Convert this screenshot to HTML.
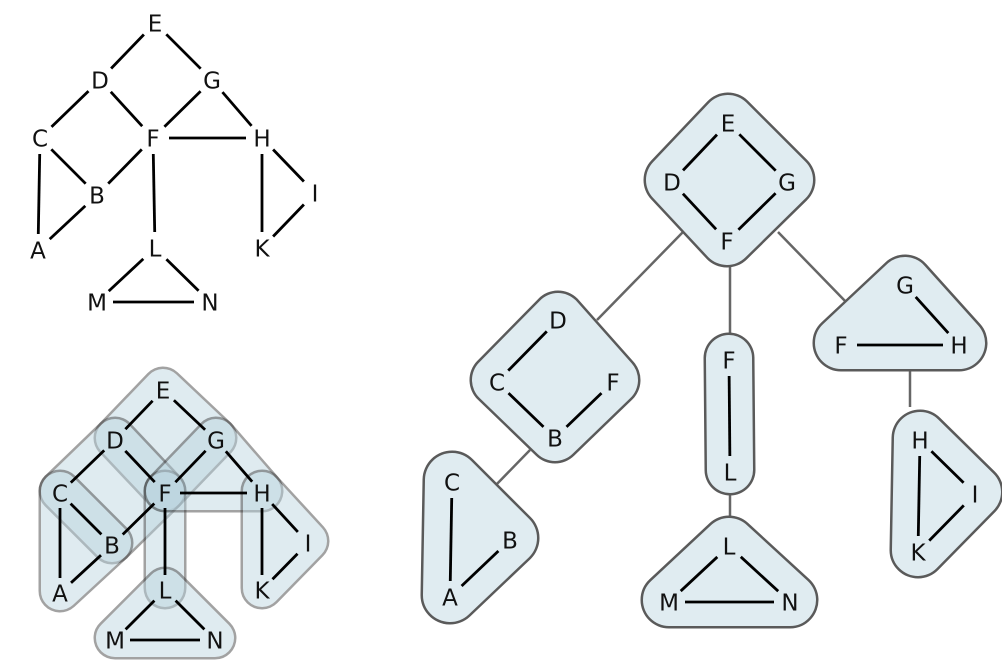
<!DOCTYPE html>
<html><head><meta charset="utf-8"><style>
html,body{margin:0;padding:0;background:#fff;}
svg{display:block;}
text{font-family:"DejaVu Sans","Liberation Sans",sans-serif;font-size:23px;fill:#111;}
</style></head><body>
<svg id="svg" width="1002" height="666" viewBox="0 0 1002 666">
<g id="g-top"></g>
<g id="g-bl"></g>
<g id="g-tree-edges"></g>
<g id="g-right"></g>
</svg>
<script>
const NS="http://www.w3.org/2000/svg";
// graph data
const topNodes={E:[155,23],D:[100,80],G:[212,80],C:[40,138],F:[153,138],H:[262,138],B:[97,195],I:[315,193],A:[38,250],K:[262,248],L:[155,248],M:[97,302],N:[210,302]};
const blNodes={E:[163,390],D:[115,440],G:[216,440],C:[60,493],F:[165,493],H:[262,493],B:[112,545],I:[308,543],A:[60,593],K:[262,590],L:[165,590],M:[115,640],N:[215,640]};
const edges=[["E","D"],["E","G"],["D","C"],["D","F"],["G","F"],["G","H"],["C","B"],["C","A"],["F","B"],["F","H"],["F","L"],["B","A"],["H","I"],["H","K"],["I","K"],["L","M"],["L","N"],["M","N"]];
const blocks=[["E","G","F","D"],["D","F","B","C"],["C","B","A"],["F","L"],["L","N","M"],["G","H","F"],["H","I","K"]];
// block-cut tree data
const treeBlocks=[
 {name:"block-edgf",nodes:{E:[728,123],G:[787,182],F:[727,241],D:[672,182]},r:26,edges:[["E","D"],["E","G"],["D","F"],["G","F"]]},
 {name:"block-dcbf",nodes:{D:[558,320],F:[613,382],B:[555,438],C:[497,382]},r:25,edges:[["D","C"],["C","B"],["B","F"]]},
 {name:"block-cba",nodes:{C:[452,482],B:[510,540],A:[450,597]},r:27,edges:[["C","A"],["A","B"]]},
 {name:"block-fl",nodes:{F:[729,360],L:[730,472]},r:23,edges:[["F","L"]]},
 {name:"block-lmn",nodes:{L:[729,546],N:[790,602],M:[669,602]},r:26,edges:[["L","M"],["L","N"],["M","N"]]},
 {name:"block-gfh",nodes:{G:[905,285],H:[959,345],F:[841,345]},r:26,edges:[["G","H"],["F","H"]]},
 {name:"block-hik",nodes:{H:[920,440],I:[975,494],K:[918,552]},r:26,edges:[["H","I"],["H","K"],["I","K"]]}
];
const treeEdges=[[[683,232],[597,320]],[[730,262],[730,333]],[[778,232],[847,303]],[[530,450],[494,487]],[[730,489],[730,525]],[[910,363],[910,407]]];

function el(tag,attrs,parent){const e=document.createElementNS(NS,tag);for(const k in attrs)e.setAttribute(k,attrs[k]);parent.appendChild(e);return e;}
function label(p,t,parent,name){const e=el("text",{x:p[0],y:p[1]+8.5,"text-anchor":"middle"},parent);e.textContent=t;

return e;}
function edgeLine(p,q,parent,gap,name){const dx=q[0]-p[0],dy=q[1]-p[1],L=Math.hypot(dx,dy),ux=dx/L,uy=dy/L;
const e=el("line",{x1:p[0]+ux*gap,y1:p[1]+uy*gap,x2:q[0]-ux*gap,y2:q[1]-uy*gap,stroke:"#000","stroke-width":2.8},parent);

}
function hull(pts,r,parent,fill,stroke,name){
 const g=el("g",{},parent);
 
 
 const d="M"+pts.map(p=>p[0]+","+(p[1]-2)).join(" L")+(pts.length>2?" Z":"");
 el("path",{d:d,fill:stroke,stroke:stroke,"stroke-width":2*r+5,"stroke-linejoin":"round","stroke-linecap":"round"},g);
 el("path",{d:d,fill:fill,stroke:fill,"stroke-width":2*r,"stroke-linejoin":"round","stroke-linecap":"round"},g);
 return g;}
// top graph
const gt=document.getElementById("g-top");
edges.forEach(([a,b])=>edgeLine(topNodes[a],topNodes[b],gt,16,"edge-"+a+b));
for(const k in topNodes)label(topNodes[k],k,gt,"node-"+k);
// bottom-left overlay
const gb=document.getElementById("g-bl");
blocks.forEach(bl=>{const g=hull(bl.map(k=>blNodes[k]),19,gb,"#b9d3de","#333","hull-"+bl.join("").toLowerCase());g.setAttribute("opacity","0.45");});
edges.forEach(([a,b])=>edgeLine(blNodes[a],blNodes[b],gb,15,"overlay-edge-"+a+b));
for(const k in blNodes)label(blNodes[k],k,gb,"overlay-node-"+k);
// tree edges
const ge=document.getElementById("g-tree-edges");
treeEdges.forEach((e,i)=>{const l=el("line",{x1:e[0][0],y1:e[0][1],x2:e[1][0],y2:e[1][1],stroke:"#666","stroke-width":2.5},ge);

});
// tree blocks
const gr=document.getElementById("g-right");
treeBlocks.forEach(b=>{const ks=Object.keys(b.nodes);const pts=ks.map(k=>b.nodes[k]);
 const g=hull(pts,b.r,gr,"#e0ecf1","#5a5a5a",b.name);
 b.edges.forEach(([a,c])=>edgeLine(b.nodes[a],b.nodes[c],g,16,b.name+"-edge-"+a+c));
 ks.forEach(k=>label(b.nodes[k],k,g,b.name+"-node-"+k));
});
</script>
</body></html>
